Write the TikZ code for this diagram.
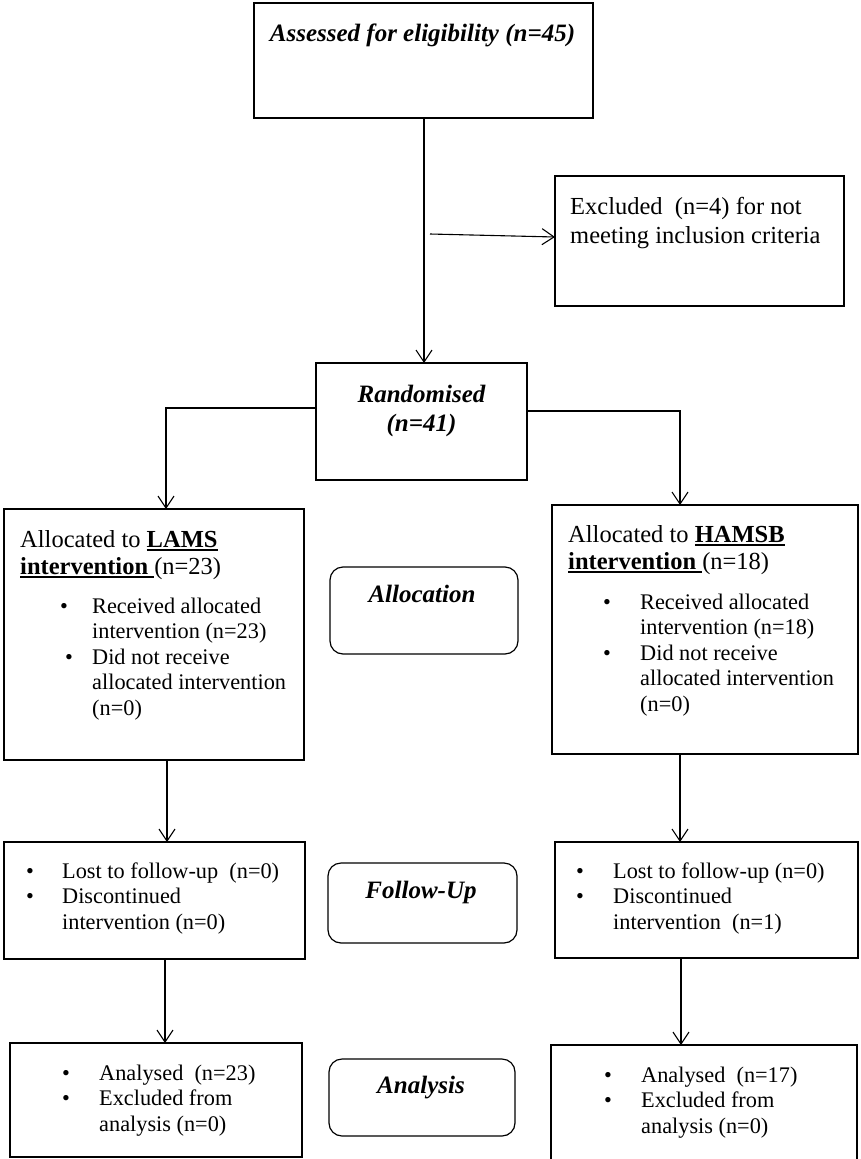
\documentclass[tikz,border=0pt]{standalone}
\usepackage{fontspec}
\setmainfont{Liberation Serif}
\usetikzlibrary{arrows.meta}
\newcommand\myul[1]{\setbox0\hbox{#1}\rlap{\rule[-3.8pt]{\wd0}{1.6pt}}\box0}
\newcommand\blist[2]{\begin{tabular}[t]{@{}p{#1}@{}l@{}}#2\end{tabular}}
\newcommand\lines[1]{\begin{tabular}[t]{@{}l@{}}#1\end{tabular}}
\newcommand\clines[1]{\begin{tabular}[t]{@{}c@{}}#1\end{tabular}}
\tikzset{
  box/.style={draw, line width=1.2pt, inner sep=0pt, outer sep=0pt},
  rbox/.style={box, rounded corners=13pt},
  arr/.style={-{Straight Barb[length=12pt,width=16pt]}, line width=1.1pt},
  txt/.style={inner sep=0pt, anchor=base west, font=\fontsize{22.3}{25.5}\selectfont},
  bigtxt/.style={inner sep=0pt, anchor=base west},
  head/.style={inner sep=0pt, anchor=base, font=\fontsize{25}{29}\selectfont\bfseries\itshape},
}
\begin{document}
\begin{tikzpicture}[x=1pt,y=-1pt]
\fill[white] (0,0) rectangle (860,1159);
\clip (0,0) rectangle (860,1159);
% boxes
\node[box, minimum width=339pt, minimum height=115pt] (top) at (423.5,60.5) {};
\node[box, minimum width=289pt, minimum height=130pt] (excl) at (699.5,241) {};
\node[box, minimum width=211pt, minimum height=117pt] (rand) at (421.5,421.5) {};
\node[box, minimum width=300pt, minimum height=251pt] (lams) at (154,634.5) {};
\node[box, minimum width=306pt, minimum height=249pt] (hamsb) at (705,629.5) {};
\node[rbox, minimum width=188pt, minimum height=87pt] (alloc) at (424,610.5) {};
\node[box, minimum width=301pt, minimum height=117pt] (fl) at (154.5,900.5) {};
\node[rbox, minimum width=189pt, minimum height=80pt] (fu) at (422.5,903) {};
\node[box, minimum width=303pt, minimum height=116pt] (fr) at (706.5,900) {};
\node[box, minimum width=292pt, minimum height=114pt] (al) at (156,1100) {};
\node[rbox, minimum width=186pt, minimum height=77pt] (an) at (422,1097.5) {};
\node[box, minimum width=306pt, minimum height=130pt] (ar) at (704,1110) {};
% texts
\node[head] (ttop) at (422.5,41) {Assessed for eligibility (n=45)};
\node[bigtxt, font=\fontsize{24.5}{29}\selectfont] (texcl) at (570,214) {\lines{Excluded\ \ (n=4) for not\\meeting inclusion criteria}};
\node[head] (trand) at (421.5,402) {\clines{Randomised\\(n=41)}};
\node[bigtxt, font=\fontsize{24.5}{27}\selectfont] (tlamsh) at (20,547) {\lines{Allocated to \myul{\textbf{LAMS}}\\\myul{\textbf{intervention}\ }(n=23)}};
\node[txt] (tlamsb) at (60,613) {\blist{32pt}{\textbullet & Received allocated\\ & intervention (n=23)\\ \hspace{5pt}\textbullet & Did not receive\\ & allocated intervention\\ & (n=0)}};
\node[bigtxt, font=\fontsize{24.5}{27}\selectfont] (thamh) at (568,542) {\lines{Allocated to \myul{\textbf{HAMSB}}\\\myul{\textbf{intervention}\ }(n=18)}};
\node[txt] (thamb) at (603,609) {\blist{37pt}{\textbullet & Received allocated\\ & intervention (n=18)\\ \textbullet & Did not receive\\ & allocated intervention\\ & (n=0)}};
\node[head] (talloc) at (422,602) {Allocation};
\node[txt] (tfl) at (26,878) {\blist{36pt}{\textbullet & Lost to follow-up\ \ (n=0)\\ \textbullet & Discontinued\\ & intervention (n=0)}};
\node[head] (tfu) at (421,898) {Follow-Up};
\node[txt] (tfr) at (576,878) {\blist{37pt}{\textbullet & Lost to follow-up (n=0)\\ \textbullet & Discontinued\\ & intervention\ \ (n=1)}};
\node[txt] (tal) at (62,1080) {\blist{37pt}{\textbullet & Analysed\ \ (n=23)\\ \textbullet & Excluded from\\ & analysis (n=0)}};
\node[head] (tan) at (421,1093) {Analysis};
\node[txt] (tar) at (604,1082) {\blist{37pt}{\textbullet & Analysed\ \ (n=17)\\ \textbullet & Excluded from\\ & analysis (n=0)}};
% connectors
\coordinate (split) at (430,234);
\draw[arr] (top.south -| 424,0) -- (rand.north -| 424,0);
\draw[arr] (split) -- (excl.west |- 0,237);
\draw[arr] (rand.west |- 0,408) -| (lams.north -| 166,0);
\draw[arr] (rand.east |- 0,411) -| (hamsb.north -| 680,0);
\draw[arr] (lams.south -| 167,0) -- (fl.north -| 167,0);
\draw[arr] (hamsb.south -| 680,0) -- (fr.north -| 680,0);
\draw[arr] (fl.south -| 165,0) -- (al.north -| 165,0);
\draw[arr] (fr.south -| 681,0) -- (ar.north -| 681,0);
\end{tikzpicture}
\end{document}
